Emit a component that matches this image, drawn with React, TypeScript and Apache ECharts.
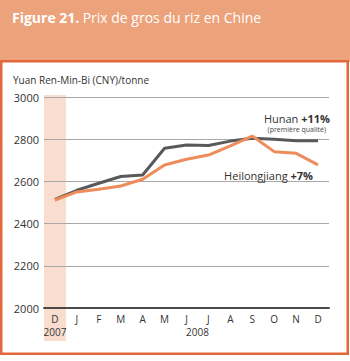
import React, { useEffect, useRef } from "react";
import * as echarts from "echarts";

const categories = ["2007-12", "2008-01", "2008-02", "2008-03", "2008-04", "2008-05", "2008-06", "2008-07", "2008-08", "2008-09", "2008-10", "2008-11", "2008-12"];
const monthLabels = ["D", "J", "F", "M", "A", "M", "J", "J", "A", "S", "O", "N", "D"];
const yearLabels = ["2007", "2008"];
const hunan = [2515, 2558, 2591, 2623, 2630, 2757, 2773, 2770, 2791, 2804, 2800, 2793, 2793];
const heilongjiang = [2512, 2550, 2563, 2578, 2610, 2678, 2705, 2725, 2768, 2815, 2741, 2733, 2678];
const yTicks = { min: 2000, max: 3000, interval: 200 };
const FONT = "'Open Sans', 'Noto Sans', sans-serif";

export default function App() {
  const ref = useRef<HTMLDivElement>(null);
  useEffect(() => {
    if (!ref.current) return;
    const chart = echarts.init(ref.current, null, { renderer: "svg" });
    const base: any = {
      animation: false,
      textStyle: { fontFamily: FONT },
      grid: { left: 44, right: 21, top: 97, bottom: 53 },
      xAxis: {
        type: "category",
        data: categories,
        boundaryGap: true,
        axisLine: { lineStyle: { color: "#4a4a4a", width: 2 } },
        axisTick: { inside: true, length: 5, alignWithLabel: true, interval: 0, lineStyle: { color: "#333", width: 1 } },
        axisLabel: {
          color: "#333",
          fontSize: 10,
          lineHeight: 11,
          margin: 5,
          interval: 0,
          fontFamily: FONT,
          formatter: (v: string, i: number) => monthLabels[i],
        },
      },
      yAxis: {
        type: "value",
        min: yTicks.min,
        max: yTicks.max,
        interval: yTicks.interval,
        axisLine: { show: false },
        axisTick: { show: false },
        axisLabel: { color: "#333", fontSize: 11, margin: 5, fontFamily: FONT, formatter: (v: number) => String(v) },
        splitLine: { lineStyle: { color: "#a8a8a8", width: 1 } },
      },
      series: [
        {
          name: "Hunan",
          type: "line",
          data: hunan,
          symbol: "none",
          z: 3,
          lineStyle: { color: "#58595b", width: 3 },
        },
        {
          name: "Heilongjiang",
          type: "line",
          data: heilongjiang,
          symbol: "none",
          z: 4,
          lineStyle: { color: "#ee8c5c", width: 3 },
        },
      ],
    };
    chart.setOption(base);

    const x0 = chart.convertToPixel({ xAxisIndex: 0 }, categories[0]) as number;
    const x1 = chart.convertToPixel({ xAxisIndex: 0 }, categories[1]) as number;
    const xLast = chart.convertToPixel({ xAxisIndex: 0 }, categories[categories.length - 1]) as number;
    const half = (x1 - x0) / 2;
    const yTop = chart.convertToPixel({ yAxisIndex: 0 }, yTicks.max) as number;
    const yBot = chart.convertToPixel({ yAxisIndex: 0 }, yTicks.min) as number;

    chart.setOption({
      graphic: [
        { type: "rect", z: -10, shape: { x: 0, y: 0, width: 350, height: 62 }, style: { fill: "#eca37b" } },
        {
          type: "rect",
          z: -9,
          shape: { x: 1.25, y: 61.25, width: 346.5, height: 292.5 },
          style: { fill: "#fff", stroke: "#e2673a", lineWidth: 2.5 },
        },
        {
          type: "text",
          left: 12,
          top: 10,
          style: {
            text: "{b|Figure 21.} {n|Prix de gros du riz en Chine}",
            fill: "#fff",
            rich: {
              b: { fontWeight: "bold", fontSize: 14, fill: "#fff", fontFamily: FONT },
              n: { fontSize: 14, fill: "#fff", fontFamily: FONT },
            },
          },
        },
        {
          type: "rect",
          z: -5,
          shape: { x: x0 - half, y: yTop - 2, width: half * 2, height: yBot - yTop + 35 },
          style: { fill: "#f9ded0" },
        },
        {
          type: "text",
          x: x0,
          y: yBot + 18.5,
          style: { text: yearLabels[0], fill: "#333", fontSize: 10, lineHeight: 11, fontFamily: FONT, align: "center", verticalAlign: "top" },
        },
        {
          type: "text",
          x: (x1 + xLast) / 2,
          y: yBot + 18.5,
          style: { text: yearLabels[1], fill: "#333", fontSize: 10, lineHeight: 11, fontFamily: FONT, align: "center", verticalAlign: "top" },
        },
        {
          type: "text",
          x: 13,
          y: 75,
          style: { text: "Yuan Ren-Min-Bi (CNY)/tonne", fill: "#333", fontSize: 10, fontFamily: FONT },
        },
        {
          type: "text",
          x: 330,
          y: 118,
          style: {
            text: "{n|Hunan }{b|+11%}",
            align: "right",
            verticalAlign: "middle",
            rich: {
              n: { fontSize: 11, fill: "#333", fontFamily: FONT },
              b: { fontSize: 11, fontWeight: "bold", fill: "#333", fontFamily: FONT },
            },
          },
        },
        {
          type: "text",
          x: 326,
          y: 129.5,
          style: { text: "(première qualité)", fill: "#444", fontSize: 7, fontFamily: FONT, align: "right", verticalAlign: "middle" },
        },
        {
          type: "text",
          x: 313,
          y: 175,
          style: {
            text: "{n|Heilongjiang }{b|+7%}",
            align: "right",
            verticalAlign: "middle",
            rich: {
              n: { fontSize: 11, fill: "#333", fontFamily: FONT },
              b: { fontSize: 11, fontWeight: "bold", fill: "#333", fontFamily: FONT },
            },
          },
        },
      ],
    });
    return () => chart.dispose();
  }, []);
  return <div ref={ref} style={{ position: "absolute", left: 0, top: 0, width: 350, height: 361 }} />;
}
